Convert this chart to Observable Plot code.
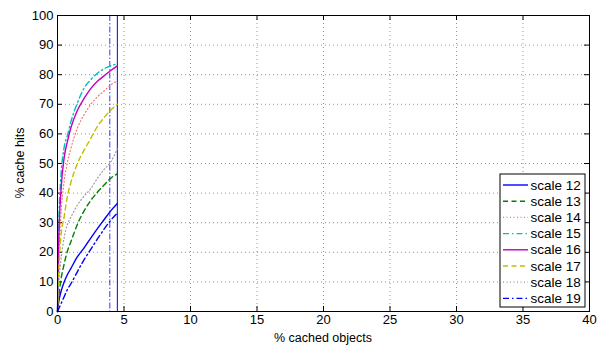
<!DOCTYPE html>
<html><head><meta charset="utf-8">
<script src="https://cdn.jsdelivr.net/npm/d3@7"></script>
<script src="https://cdn.jsdelivr.net/npm/@observablehq/plot@0.6"></script>
<style>
body{margin:0;background:#fff}
svg{font-family:"Liberation Sans",Arial,Helvetica,sans-serif}
</style>
</head><body><div id="chart"></div>
<script>
// ---- data ----
const xs = [0, 0.1, 0.25, 0.5, 0.75, 1, 1.5, 2, 2.5, 3, 3.5, 4, 4.5];
const scale12 = [0, 3.5, 6.5, 10, 12.5, 14.5, 18.5, 21.5, 24.8, 28, 31, 34, 36.5];
const scale13 = [0, 5, 10.5, 16, 20.5, 23.5, 29.5, 34, 37.5, 40.3, 42.7, 45, 46.5];
const scale14 = [0, 18, 32, 44, 50.5, 55, 62, 66.5, 70, 72.5, 74.5, 76.5, 78];
const scale15 = [0, 30, 45, 55.5, 59.5, 64, 70.5, 75.5, 78.3, 80.5, 82, 83, 83.7];
const scale16 = [0, 25, 40, 52, 57.5, 62, 68, 72, 75.3, 77.8, 79.6, 81.4, 83];
const scale17 = [0, 14, 25, 32, 39, 43.5, 50, 54.5, 58.5, 62.5, 65.5, 68, 70];
const scale18 = [0, 10, 17, 25, 29.5, 31.8, 36, 39, 41.5, 45, 48, 50.5, 55];
const scale19 = [0, 1, 2.5, 5, 7.5, 9.3, 13.5, 17.5, 21, 24.5, 27.8, 30.8, 33.3];
const seriesNames = ["scale 12","scale 13","scale 14","scale 15","scale 16","scale 17","scale 18","scale 19"];
const seriesValues = [scale12, scale13, scale14, scale15, scale16, scale17, scale18, scale19];
const cutoffNames = ["scale 12", "scale 19"];
const cutoffX = [4.5, 3.93];
const xTicks = [0, 5, 10, 15, 20, 25, 30, 35, 40];
const yTicks = [0, 10, 20, 30, 40, 50, 60, 70, 80, 90, 100];
const xTitle = "% cached objects";
const yTitle = "% cache hits";

// ---- styles ----
const styles = {
  "scale 12": {stroke: "#0000ff", dash: null, w: 1.4},
  "scale 13": {stroke: "#008000", dash: "5,3.5", w: 1.4},
  "scale 14": {stroke: "#ff7070", dash: "1,2.5", w: 1.2},
  "scale 15": {stroke: "#00bfbf", dash: "6,3,1.5,3", w: 1.4},
  "scale 16": {stroke: "#bf00bf", dash: null, w: 1.4},
  "scale 17": {stroke: "#bfbf00", dash: "5,3.5", w: 1.4},
  "scale 18": {stroke: "#999999", dash: "1,2.5", w: 1.2},
  "scale 19": {stroke: "#0000ff", dash: "6,3,1.5,3", w: 1.4}
};

const rows = seriesNames.map((name, i) => xs.map((x, j) => ({series: name, x, y: seriesValues[i][j]})));
const cutoffs = cutoffNames.map((n, i) => ({series: n, x: cutoffX[i]}));

const W = 603, H = 345;
const mT = 15, mR = 14, mB = 34, mL = 57;
const fw = W - mL - mR, fh = H - mT - mB;
const tick = 5;

const marks = [
  Plot.gridX(xTicks, {stroke: "#555", strokeOpacity: 0.8, strokeDasharray: "1,3", strokeWidth: 0.8}),
  Plot.gridY(yTicks, {stroke: "#555", strokeOpacity: 0.8, strokeDasharray: "1,3", strokeWidth: 0.8}),
  // inward ticks on all four sides
  Plot.ruleX(xTicks, {insetTop: fh - tick, stroke: "black"}),
  Plot.ruleX(xTicks, {insetBottom: fh - tick, stroke: "black"}),
  Plot.ruleY(yTicks, {insetRight: fw - tick, stroke: "black"}),
  Plot.ruleY(yTicks, {insetLeft: fw - tick, stroke: "black"}),
  Plot.axisX(xTicks, {tickSize: 0, tickPadding: 3.5, fontSize: 13, label: null}),
  Plot.axisY(yTicks, {tickSize: 0, tickPadding: 4, fontSize: 13, label: null}),
];
cutoffs.forEach(c => {
  const s = styles[c.series];
  const dashed = c.series === "scale 19";
  marks.push(Plot.ruleX([c], {x: "x", stroke: s.stroke, strokeOpacity: dashed ? 0.65 : 1,
    strokeWidth: dashed ? 1.2 : 1, strokeDasharray: dashed ? "6,2,1.5,2" : null}));
});
rows.forEach((data, i) => {
  const s = styles[seriesNames[i]];
  marks.push(Plot.line(data, {x: "x", y: "y", stroke: s.stroke, strokeWidth: s.w,
    strokeDasharray: s.dash, curve: "monotone-x"}));
});
marks.push(Plot.frame({stroke: "black", strokeWidth: 1}));

const chart = Plot.plot({
  width: W, height: H,
  marginTop: mT, marginRight: mR, marginBottom: mB, marginLeft: mL,
  x: {domain: [0, 40]},
  y: {domain: [0, 100]},
  style: {fontFamily: '"Liberation Sans", Arial, sans-serif', fontSize: "13px", color: "black", background: "white"},
  marks
});
document.getElementById("chart").appendChild(chart);

// axis titles and legend
const svg = d3.select(chart);
svg.append("text").attr("x", mL + fw / 2).attr("y", 341.5).attr("text-anchor", "middle")
  .attr("font-size", 12.5).attr("fill", "black").text(xTitle);
svg.append("text").attr("transform", `translate(24,${mT + fh / 2}) rotate(-90)`).attr("text-anchor", "middle")
  .attr("font-size", 12.5).attr("fill", "black").text(yTitle);

const lg = svg.append("g").attr("transform", "translate(500,174)");
lg.append("rect").attr("width", 85).attr("height", 133).attr("fill", "white").attr("stroke", "black");
seriesNames.forEach((n, i) => {
  const s = styles[n];
  const y = 11 + i * 16.2;
  lg.append("line").attr("x1", 3).attr("x2", 28).attr("y1", y).attr("y2", y)
    .attr("stroke", s.stroke).attr("stroke-width", s.w).attr("stroke-dasharray", s.dash);
  lg.append("text").attr("x", 30.5).attr("y", y + 4.6).attr("text-anchor", "start")
    .attr("font-size", 13.5).attr("fill", "black").text(n);
});
</script>
</body></html>
